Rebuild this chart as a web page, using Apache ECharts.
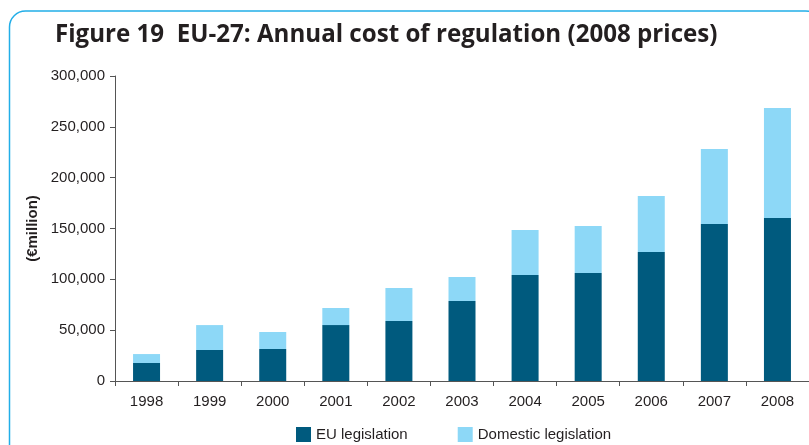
<!DOCTYPE html>
<html>
<head>
<meta charset="utf-8">
<script src="https://cdn.jsdelivr.net/npm/echarts@6/dist/echarts.min.js"></script>
<style>
html,body{margin:0;padding:0;background:#fff;}
#chart{width:809px;height:445px;}
</style>
</head>
<body>
<div id="chart"></div>
<script>
const titleText = 'Figure 19  EU-27: Annual cost of regulation (2008 prices)';
const yAxisName = '(\u20acmillion)';
const categories = ['1998','1999','2000','2001','2002','2003','2004','2005','2006','2007','2008'];
const euLegislation = [17700, 30500, 31500, 55000, 59000, 78700, 104300, 106200, 126900, 154400, 160300];
const domesticLegislation = [8800, 24500, 16700, 16800, 32500, 23600, 44200, 46300, 55100, 73800, 108200];
const seriesNames = ['EU legislation', 'Domestic legislation'];

const chart = echarts.init(document.getElementById('chart'), null, {renderer: 'canvas'});
const font = 'Liberation Sans, Arial, sans-serif';
chart.setOption({
  animation: false,
  graphic: [
    {type: 'rect', shape: {x: 9.5, y: 11, width: 812, height: 450, r: 16},
     style: {fill: 'none', stroke: '#22aee8', lineWidth: 1.5}, z: 0},
    {type: 'text', left: 55, top: 22, scaleX: 0.965,
     style: {text: titleText, font: 'bold 25px "Open Sans", sans-serif', fill: '#231f20'}}
  ],
  grid: {left: 115, top: 76, width: 696, height: 305, containLabel: false},
  legend: {
    data: seriesNames,
    left: 296, top: 427, padding: 0,
    itemWidth: 15, itemHeight: 15, itemGap: 50,
    icon: 'rect',
    textStyle: {fontFamily: font, fontSize: 15, color: '#231f20'}
  },
  xAxis: {
    type: 'category', data: categories,
    axisLine: {lineStyle: {color: '#555', width: 1}},
    axisTick: {show: true, length: 5, lineStyle: {color: '#555'}},
    axisLabel: {fontFamily: font, fontSize: 15, color: '#231f20', margin: 13}
  },
  yAxis: {
    type: 'value', min: 0, max: 300000, interval: 50000,
    name: yAxisName, nameLocation: 'middle', nameGap: 74, nameRotate: 90,
    nameTextStyle: {fontFamily: font, fontSize: 15, fontWeight: 'bold', color: '#231f20'},
    axisLine: {show: true, lineStyle: {color: '#555', width: 1}},
    axisTick: {show: true, length: 5, lineStyle: {color: '#555'}},
    splitLine: {show: false},
    axisLabel: {fontFamily: font, fontSize: 15, color: '#231f20', margin: 10,
      formatter: v => v.toLocaleString('en-US')}
  },
  series: [
    {name: seriesNames[0], type: 'bar', stack: 'total', data: euLegislation,
     barWidth: 27, itemStyle: {color: '#005a7e'}},
    {name: seriesNames[1], type: 'bar', stack: 'total', data: domesticLegislation,
     barWidth: 27, itemStyle: {color: '#8dd8f7'}}
  ]
});
</script>
</body>
</html>
